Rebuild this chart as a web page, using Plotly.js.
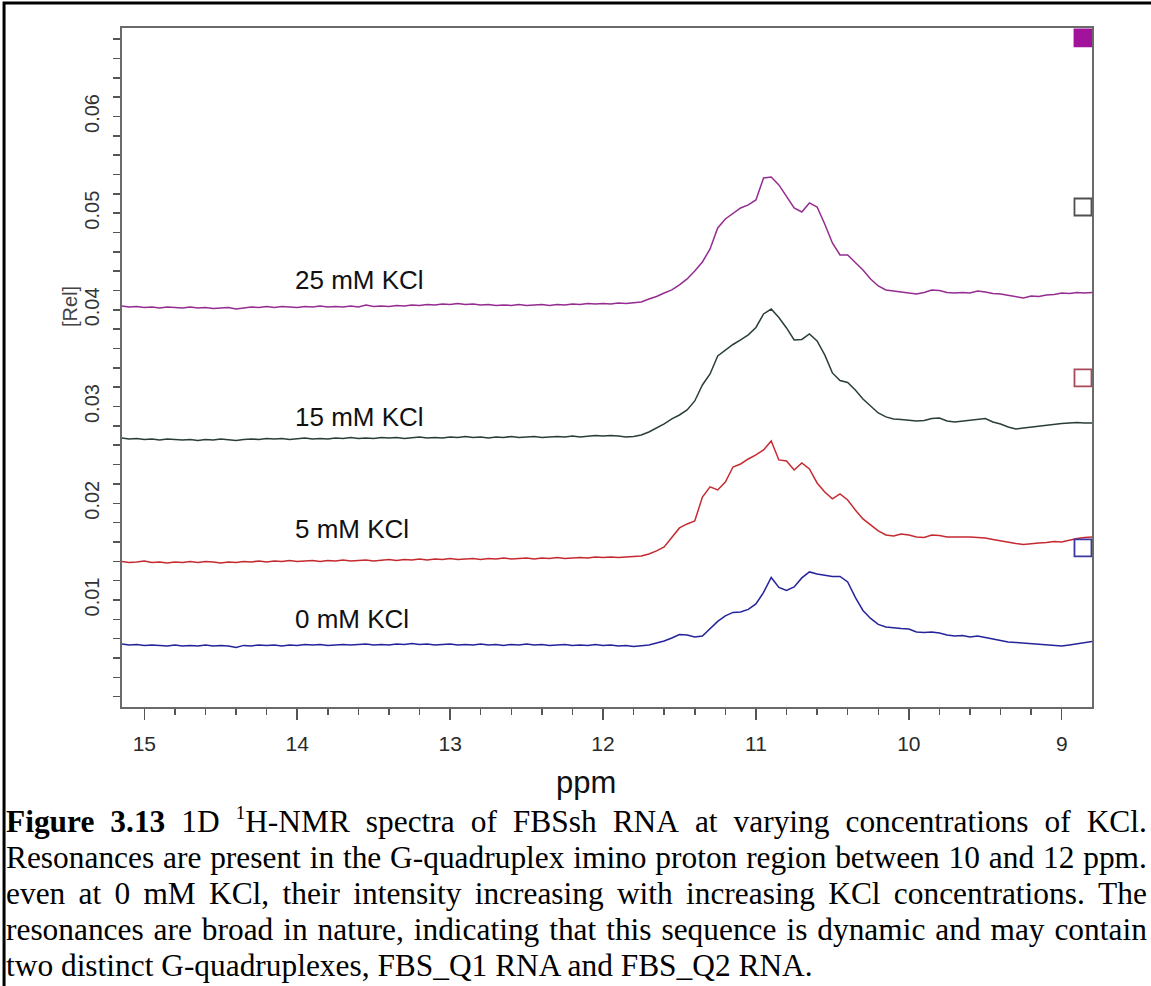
<!DOCTYPE html>
<html><head><meta charset="utf-8">
<script src="https://cdn.plot.ly/plotly-3.0.1.min.js"></script>
<style>
html,body{margin:0;padding:0;background:#fff;width:1151px;height:986px;overflow:hidden;}
#chart{position:absolute;left:0;top:0;width:1151px;height:986px;}
#caption{position:absolute;left:6px;top:804px;width:1141px;font-family:'Liberation Serif','Times New Roman',serif;font-size:31.4px;line-height:36px;color:#000;}
.jl{display:flex;justify-content:space-between;white-space:nowrap;height:36px;}
.ll{white-space:nowrap;height:36px;}
sup{font-size:19px;line-height:0;vertical-align:baseline;position:relative;top:-13px;}
</style></head><body>
<div id="chart"></div>
<div id="caption"></div>
<script>
// chemical shift grid (ppm)
const ppm = [15.15,15.1,15.05,15,14.95,14.9,14.85,14.8,14.75,14.7,14.65,14.6,14.55,14.5,14.45,14.4,14.35,14.3,14.25,14.2,
14.15,14.1,14.05,14,13.95,13.9,13.85,13.8,13.75,13.7,13.65,13.6,13.55,13.5,13.45,13.4,13.35,13.3,13.25,13.2,
13.15,13.1,13.05,13,12.95,12.9,12.85,12.8,12.75,12.7,12.65,12.6,12.55,12.5,12.45,12.4,12.35,12.3,12.25,12.2,
12.15,12.1,12.05,12,11.95,11.9,11.85,11.8,11.75,11.7,11.65,11.6,11.55,11.5,11.45,11.4,11.35,11.3,11.25,11.2,
11.15,11.1,11.05,11,10.95,10.9,10.85,10.8,10.75,10.7,10.65,10.6,10.55,10.5,10.45,10.4,10.35,10.3,10.25,10.2,
10.15,10.1,10.05,10,9.95,9.9,9.85,9.8,9.75,9.7,9.65,9.6,9.55,9.5,9.45,9.4,9.35,9.3,9.25,9.2,
9.15,9.1,9.05,9,8.95,8.9,8.85,8.8];

const kcl25 = [0.04040,0.04030,0.04035,0.04025,0.04030,0.04020,0.04030,0.04025,0.04020,0.04030,
0.04020,0.04025,0.04015,0.04020,0.04025,0.04009,0.04020,0.04030,0.04025,0.04035,
0.04025,0.04035,0.04030,0.04025,0.04035,0.04030,0.04040,0.04030,0.04035,0.04030,
0.04040,0.04030,0.04051,0.04035,0.04040,0.04035,0.04046,0.04040,0.04051,0.04046,
0.04056,0.04051,0.04061,0.04056,0.04066,0.04056,0.04061,0.04051,0.04056,0.04046,
0.04051,0.04046,0.04056,0.04046,0.04051,0.04056,0.04046,0.04056,0.04051,0.04061,
0.04056,0.04066,0.04061,0.04066,0.04061,0.04071,0.04066,0.04071,0.04082,0.04113,
0.04139,0.04175,0.04206,0.04258,0.04320,0.04402,0.04495,0.04630,0.04847,0.04940,
0.05002,0.05054,0.05085,0.05137,0.05364,0.05374,0.05292,0.05178,0.05054,0.05012,
0.05106,0.05064,0.04888,0.04692,0.04568,0.04568,0.04495,0.04413,0.04320,0.04247,
0.04206,0.04196,0.04185,0.04170,0.04164,0.04180,0.04206,0.04201,0.04180,0.04175,
0.04180,0.04175,0.04196,0.04185,0.04170,0.04164,0.04149,0.04134,0.04123,0.04144,
0.04139,0.04154,0.04159,0.04175,0.04170,0.04180,0.04175,0.04180];

const kcl15 = [0.02675,0.02665,0.02670,0.02660,0.02665,0.02655,0.02665,0.02660,0.02655,0.02660,
0.02650,0.02660,0.02655,0.02665,0.02660,0.02650,0.02660,0.02665,0.02660,0.02670,
0.02665,0.02670,0.02660,0.02665,0.02675,0.02665,0.02670,0.02665,0.02675,0.02670,
0.02680,0.02670,0.02675,0.02670,0.02680,0.02675,0.02680,0.02670,0.02675,0.02686,
0.02675,0.02680,0.02675,0.02686,0.02680,0.02691,0.02680,0.02686,0.02675,0.02686,
0.02680,0.02691,0.02680,0.02686,0.02691,0.02680,0.02686,0.02691,0.02686,0.02696,
0.02686,0.02691,0.02701,0.02696,0.02701,0.02696,0.02686,0.02691,0.02706,0.02737,
0.02779,0.02820,0.02872,0.02913,0.02965,0.03058,0.03223,0.03337,0.03524,0.03586,
0.03642,0.03689,0.03741,0.03818,0.03958,0.04009,0.03921,0.03813,0.03689,0.03694,
0.03751,0.03679,0.03534,0.03348,0.03270,0.03249,0.03172,0.03079,0.03006,0.02934,
0.02893,0.02872,0.02867,0.02862,0.02851,0.02857,0.02877,0.02882,0.02851,0.02841,
0.02851,0.02862,0.02867,0.02877,0.02841,0.02820,0.02789,0.02768,0.02779,0.02789,
0.02794,0.02805,0.02815,0.02825,0.02830,0.02835,0.02830,0.02830];

const kcl5 = [0.01398,0.01388,0.01393,0.01403,0.01388,0.01393,0.01383,0.01393,0.01388,0.01398,
0.01388,0.01398,0.01393,0.01383,0.01393,0.01388,0.01398,0.01393,0.01403,0.01393,
0.01403,0.01398,0.01409,0.01398,0.01403,0.01409,0.01398,0.01409,0.01403,0.01414,
0.01403,0.01409,0.01414,0.01403,0.01414,0.01419,0.01409,0.01419,0.01414,0.01424,
0.01414,0.01424,0.01419,0.01429,0.01419,0.01424,0.01429,0.01419,0.01429,0.01424,
0.01434,0.01424,0.01429,0.01434,0.01424,0.01434,0.01429,0.01440,0.01429,0.01434,
0.01440,0.01434,0.01445,0.01440,0.01445,0.01440,0.01445,0.01445,0.01455,0.01476,
0.01507,0.01548,0.01652,0.01745,0.01786,0.01817,0.02065,0.02169,0.02138,0.02220,
0.02375,0.02406,0.02458,0.02500,0.02551,0.02644,0.02448,0.02437,0.02344,0.02417,
0.02355,0.02210,0.02117,0.02045,0.02096,0.02034,0.01931,0.01838,0.01776,0.01714,
0.01672,0.01662,0.01683,0.01672,0.01652,0.01646,0.01672,0.01667,0.01652,0.01652,
0.01657,0.01652,0.01646,0.01641,0.01626,0.01610,0.01595,0.01584,0.01574,0.01584,
0.01590,0.01595,0.01605,0.01600,0.01620,0.01636,0.01646,0.01652];

const kcl0 = [0.00545,0.00535,0.00540,0.00530,0.00535,0.00530,0.00524,0.00535,0.00524,0.00530,
0.00524,0.00535,0.00524,0.00530,0.00524,0.00509,0.00530,0.00524,0.00535,0.00530,
0.00535,0.00524,0.00535,0.00530,0.00540,0.00535,0.00540,0.00530,0.00535,0.00540,
0.00535,0.00540,0.00545,0.00535,0.00540,0.00535,0.00545,0.00540,0.00550,0.00540,
0.00545,0.00535,0.00540,0.00545,0.00535,0.00540,0.00535,0.00545,0.00535,0.00540,
0.00530,0.00540,0.00535,0.00545,0.00535,0.00540,0.00530,0.00535,0.00540,0.00530,
0.00535,0.00530,0.00540,0.00530,0.00535,0.00524,0.00530,0.00519,0.00530,0.00535,
0.00555,0.00576,0.00607,0.00643,0.00638,0.00617,0.00628,0.00700,0.00778,0.00835,
0.00871,0.00876,0.00902,0.00959,0.01078,0.01233,0.01129,0.01098,0.01135,0.01228,
0.01290,0.01269,0.01253,0.01243,0.01243,0.01186,0.01026,0.00891,0.00809,0.00747,
0.00721,0.00711,0.00705,0.00700,0.00669,0.00664,0.00669,0.00659,0.00638,0.00628,
0.00633,0.00617,0.00628,0.00612,0.00597,0.00576,0.00566,0.00561,0.00555,0.00545,
0.00540,0.00535,0.00530,0.00524,0.00535,0.00545,0.00555,0.00571];

const seriesNames = ['25 mM KCl', '15 mM KCl', '5 mM KCl', '0 mM KCl'];
const seriesData = [kcl25, kcl15, kcl5, kcl0];
const labelLevels = [0.04309, 0.02893, 0.01734, 0.00804];
const labelPpm = 14.03;
const markerLevels = [0.06812, 0.05064, 0.03296, 0.01538];
const xTickVals = [15, 14, 13, 12, 11, 10, 9];
const xTickText = ['15', '14', '13', '12', '11', '10', '9'];
const yTickVals = [0, 0.01, 0.02, 0.03, 0.04, 0.05, 0.06];
const yTickText = ['', '0.01', '0.02', '0.03', '0.04', '0.05', '0.06'];
const captionLines = [
  '<b>Figure</b> <b>3.13</b> 1D <sup>1</sup>H-NMR spectra of FBSsh RNA at varying concentrations of KCl.',
  'Resonances are present in the G-quadruplex imino proton region between 10 and 12 ppm.',
  'even at 0 mM KCl, their intensity increasing with increasing KCl concentrations. The',
  'resonances are broad in nature, indicating that this sequence is dynamic and may contain',
  'two distinct G-quadruplexes, FBS_Q1 RNA and FBS_Q2 RNA.'
];

const lineColors = ['#952c91', '#2a3e39', '#c52a30', '#25239b'];
const markerSymbols = ['square', 'square-open', 'square-open', 'square-open'];
const markerColors = ['#a0139a', '#505050', '#a84a5a', '#3a3aa2'];
const markerPpm = 8.861;

const traces = seriesData.map((vals, i) => ({
  type: 'scatter', mode: 'lines', x: ppm, y: vals, name: seriesNames[i],
  line: {color: lineColors[i], width: 1.5}, hoverinfo: 'skip'
}));
traces.push({
  type: 'scatter', mode: 'markers', x: markerLevels.map(() => markerPpm), y: markerLevels,
  marker: {symbol: markerSymbols, size: 17, color: markerColors, line: {width: 1.8, color: markerColors}},
  cliponaxis: false, hoverinfo: 'skip'
});

const annotations = seriesNames.map((t, i) => ({
  text: t, x: labelPpm, y: labelLevels[i], xref: 'x', yref: 'y', xanchor: 'left', yanchor: 'middle',
  showarrow: false, font: {size: 26, color: '#111', family: 'Liberation Sans, Arial, sans-serif'}
}));
annotations.push({
  text: '[Rel]', xref: 'paper', yref: 'y', x: -0.0536, y: 0.0403, textangle: -90,
  xanchor: 'center', yanchor: 'middle', showarrow: false,
  font: {size: 20, color: '#444', family: 'Liberation Sans, Arial, sans-serif'}
});
annotations.push({
  text: 'ppm', xref: 'paper', yref: 'paper', x: 0.4784, y: -0.1105,
  xanchor: 'center', yanchor: 'middle', showarrow: false,
  font: {size: 31, color: '#111', family: 'Liberation Sans, Arial, sans-serif'}
});

const tickCol = '#555';
const layout = {
  width: 1151, height: 986,
  margin: {l: 122, r: 59, t: 28, b: 279, pad: 0},
  paper_bgcolor: '#fff', plot_bgcolor: '#fff', showlegend: false,
  font: {family: 'Liberation Sans, Arial, sans-serif', color: '#333'},
  xaxis: {
    range: [15.146, 8.802], tickmode: 'array', tickvals: xTickVals, ticktext: xTickText,
    ticks: 'outside', ticklen: 11, tickwidth: 1.5, tickcolor: tickCol,
    minor: {tickmode: 'linear', tick0: 9, dtick: 0.2, ticks: 'outside', ticklen: 6, tickwidth: 1.5, tickcolor: tickCol, showgrid: false},
    showline: true, linecolor: '#6a6a6a', linewidth: 2, mirror: true,
    showgrid: false, zeroline: false, ticklabelstandoff: 6,
    tickfont: {size: 21, color: '#2a2a2a'}
  },
  yaxis: {
    range: [-0.00107, 0.06915], tickmode: 'array', tickvals: yTickVals, ticktext: yTickText, tickangle: -90,
    ticks: 'outside', ticklen: 7, tickwidth: 1.5, tickcolor: tickCol,
    minor: {tickmode: 'linear', tick0: 0, dtick: 0.002, ticks: 'outside', ticklen: 7, tickwidth: 1.5, tickcolor: tickCol, showgrid: false},
    showline: true, linecolor: '#6a6a6a', linewidth: 2, mirror: true,
    showgrid: false, zeroline: false, ticklabelstandoff: 6,
    tickfont: {size: 20, color: '#333'}
  },
  annotations: annotations,
  shapes: [{
    type: 'rect', xref: 'paper', yref: 'paper', x0: -0.1216, x1: 1.08, y0: -0.44, y1: 1.0368,
    line: {color: '#000', width: 3}, fillcolor: 'rgba(0,0,0,0)', layer: 'above'
  }]
};

Plotly.newPlot('chart', traces, layout, {staticPlot: true, displayModeBar: false});

// caption (justified lines, last line left aligned)
const cap = document.getElementById('caption');
captionLines.forEach((line, i) => {
  const d = document.createElement('div');
  if (i < captionLines.length - 1) {
    d.className = 'jl';
    line.split(' ').forEach(w => { const s = document.createElement('span'); s.innerHTML = w; d.appendChild(s); });
  } else {
    d.className = 'll';
    d.innerHTML = line;
  }
  cap.appendChild(d);
});
</script>
</body></html>
